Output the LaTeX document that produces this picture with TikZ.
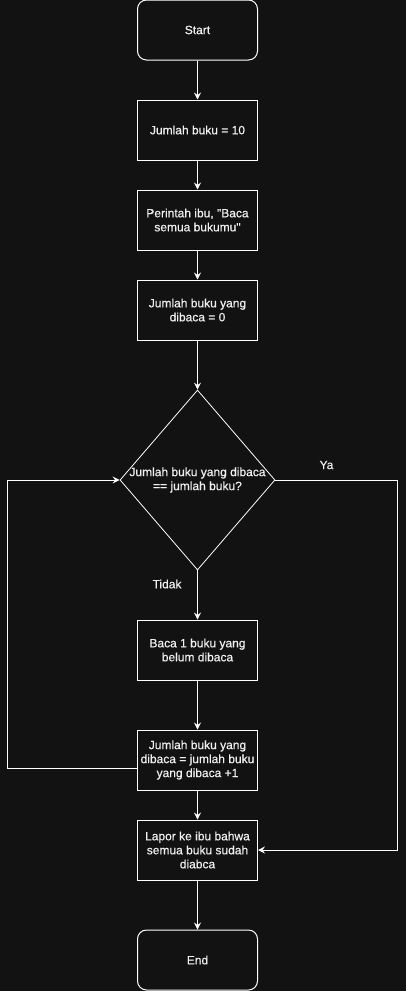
\documentclass[tikz,border=0pt]{standalone}
\usepackage{fontspec}
\setmainfont{Liberation Sans}
\newfontfamily\boxfont[FakeBold=0.5]{Liberation Sans}
\usepackage{xcolor}
\usepackage{tikz}
\usetikzlibrary{arrows.meta,shapes.geometric}

\definecolor{bgdark}{HTML}{121212}
\definecolor{txtgray}{HTML}{F0F0F0}

\tikzset{
    every node/.style={font=\boxfont\fontsize{12}{14}\selectfont, text=txtgray, align=center},
    terminal/.style={draw=white, line width=1pt, rounded corners=9pt, minimum width=120pt, minimum height=60pt, inner sep=0pt},
    process/.style={draw=white, line width=1pt, minimum width=120pt, minimum height=60pt, inner sep=0pt},
    decision/.style={draw=white, line width=0.8pt, diamond, minimum width=155pt, minimum height=180pt, inner sep=0pt},
    flow/.style={draw=white, line width=1pt, -{Stealth[length=7pt, width=7pt, inset=2.5pt]}}
}

\begin{document}
\begin{tikzpicture}[x=1pt, y=1pt]
    % Background and page size
    \fill[bgdark] (0,0) rectangle (406,-991);
    \useasboundingbox (0,0) rectangle (406,-991);

    % Main column
    \node[terminal] (start) at (197.5,-30) {Start};
    \node[process] (b1) at (197.5,-130) {Jumlah buku = 10};
    \node[process] (b2) at (197.5,-220) {Perintah ibu, "Baca\\semua bukumu"};
    \node[process] (b3) at (197.5,-310) {Jumlah buku yang\\dibaca = 0};

    % Decision
    \node[decision] (cond) at (197.5,-480) {};
    \node (condtxt) at (197.5,-480) {Jumlah buku yang dibaca\\== jumlah buku?};

    \node[process] (baca) at (197.5,-650) {Baca 1 buku yang\\belum dibaca};
    \node[process] (tambah) at (197.5,-760) {Jumlah buku yang\\dibaca = jumlah buku\\yang dibaca +1};
    \node[process] (lapor) at (197.5,-850) {Lapor ke ibu bahwa\\semua buku sudah\\diabca};
    \node[terminal] (end) at (197.5,-960) {End};

    % Straight arrows
    \foreach \a/\b in {start/b1, b1/b2, b2/b3, b3/cond, baca/tambah, tambah/lapor, lapor/end} {
        \draw[flow] (\a) -- (\b);
    }
    \draw[flow] (cond.south) -- (baca.north);
    \node (tidak) at (167,-584) {Tidak};

    % Loop back
    \coordinate (kiri) at (7,-480);
    \draw[flow] ([yshift=-8pt]tambah.west) -| (kiri) -- (cond.west);

    % Ya branch
    \coordinate (kanan) at (397,-480);
    \draw[flow] (cond.east) -- (kanan) |- (lapor.east);
    \node (ya) at (326.5,-465) {Ya};
\end{tikzpicture}
\end{document}
